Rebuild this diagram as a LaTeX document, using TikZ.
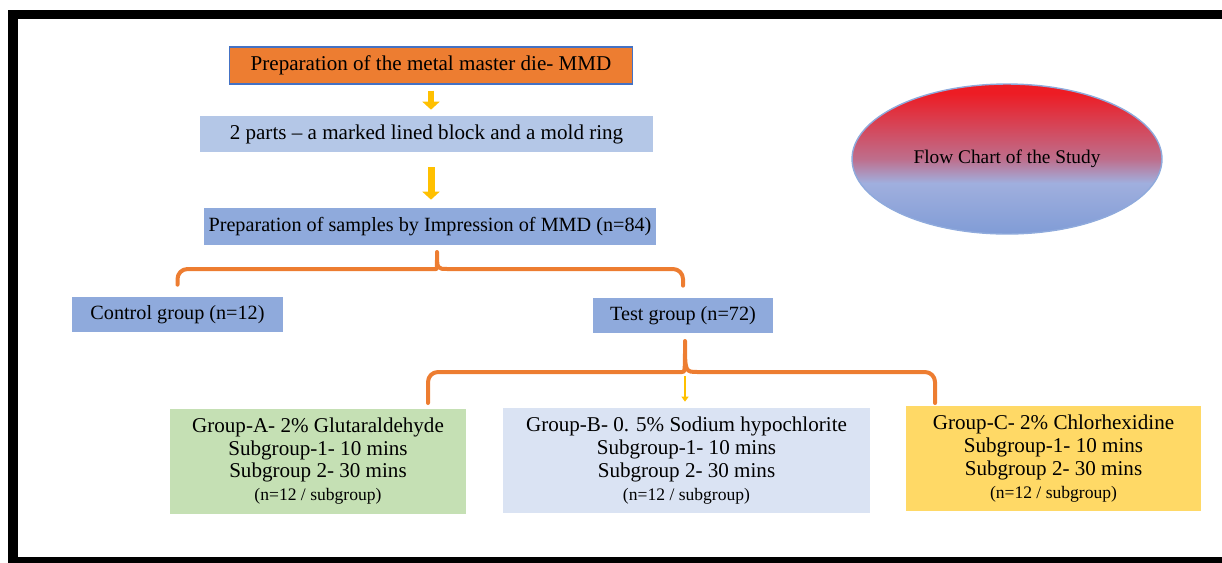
\documentclass[tikz,border=0pt]{standalone}
\usepackage{fontspec}
\setmainfont{Liberation Serif}
\usetikzlibrary{arrows.meta,shapes.geometric}

\definecolor{mmdorange}{HTML}{ED7D31}
\definecolor{edgeblue}{HTML}{4472C4}
\definecolor{paleblue}{HTML}{B4C7E7}
\definecolor{midblue}{HTML}{8FAADC}
\definecolor{grpgreen}{HTML}{C5E0B4}
\definecolor{grplilac}{HTML}{DAE3F3}
\definecolor{grpgold}{HTML}{FFD966}
\definecolor{arrowgold}{HTML}{FFC000}
\definecolor{ellred}{RGB}{237,28,36}
\definecolor{ellmauve}{RGB}{190,110,140}
\definecolor{elllight}{RGB}{160,175,222}
\definecolor{ellbase}{RGB}{128,156,214}

\pgfdeclareverticalshading{titleshade}{100bp}{color(0bp)=(ellbase); color(25bp)=(ellbase); color(42bp)=(elllight); color(50bp)=(ellmauve); color(72bp)=(ellred); color(100bp)=(ellred)}

\begin{document}
\begin{tikzpicture}[x=0.02cm, y=-0.02cm,
    stage/.style={rectangle, inner sep=0pt, align=center, font=\fontsize{12}{14}\selectfont},
    groupbox/.style={rectangle, inner sep=0pt, align=center, minimum height=2.1cm, font=\fontsize{12}{13}\selectfont},
    flowarrow/.style={draw=arrowgold, -{Triangle[length=0.16cm, width=0.34cm]}},
    brace/.style={draw=mmdorange, line width=0.08cm, line cap=round, line join=round}]

  \useasboundingbox (0,0) rectangle (1222,562);
  % frame
  \draw[line width=0.19cm] (13,14.5) rectangle (1260,562);

  % main steps
  \node[stage, fill=mmdorange, draw=edgeblue, line width=0.6pt, minimum width=8.08cm, minimum height=0.74cm] (mmd) at (431,65.5) {Preparation of the metal master die- MMD};
  \node[stage, fill=paleblue, minimum width=9.06cm, minimum height=0.72cm] (parts) at (426.5,134) {2 parts -- a marked lined block and a mold ring};
  \node[stage, fill=midblue, minimum width=9.04cm, minimum height=0.74cm, font=\fontsize{11.5}{14}\selectfont] (samples) at (430,226.5) {Preparation of samples by Impression of MMD (n=84)};

  \node[stage, fill=midblue, minimum width=4.22cm, minimum height=0.7cm, font=\fontsize{11.5}{14}\selectfont] (ctrl) at (177.5,314.5) {Control group (n=12)};
  \node[stage, fill=midblue, minimum width=3.6cm, minimum height=0.7cm, font=\fontsize{11.5}{14}\selectfont] (test) at (683,315.5) {Test group (n=72)};

  % groups
  \node[groupbox, fill=grpgreen, minimum width=5.92cm] (grpA) at (318,461) {Group-A- 2\% Glutaraldehyde\\ Subgroup-1- 10 mins\\ Subgroup 2- 30 mins\\ {\fontsize{10}{13}\selectfont (n=12 / subgroup)}};
  \node[groupbox, fill=grplilac, minimum width=7.34cm] (grpB) at (686.5,460.5) {Group-B- 0. 5\% Sodium hypochlorite\\ Subgroup-1- 10 mins\\ Subgroup 2- 30 mins\\ {\fontsize{10}{13}\selectfont (n=12 / subgroup)}};
  \node[groupbox, fill=grpgold, minimum width=5.9cm] (grpC) at (1053.5,458.5) {Group-C- 2\% Chlorhexidine\\ Subgroup-1- 10 mins\\ Subgroup 2- 30 mins\\ {\fontsize{10}{13}\selectfont (n=12 / subgroup)}};

  % title
  \node[ellipse, shading=titleshade, draw=midblue, line width=0.8pt, inner sep=0pt, minimum width=6.2cm, minimum height=3cm, font=\fontsize{11}{13}\selectfont] (title) at (1007,159) {Flow Chart of the Study};

  % arrows
  \draw[flowarrow, line width=0.12cm, shorten <=0.12cm, shorten >=0.12cm] (mmd.south) -- (mmd.south |- parts.north);
  \draw[flowarrow, line width=0.14cm, shorten <=0.3cm, shorten >=0.16cm] (mmd.south |- parts.south) -- (mmd.south |- samples.north);

  % braces
  \coordinate (bar1) at (437,269);
  \coordinate (bar2) at (685,372);
  \coordinate (endA) at (428,403);
  \coordinate (endC) at (935,403);
  \draw[brace] ([yshift=0.24cm]ctrl.north) [rounded corners=0.2cm] |- ([xshift=-0.22cm]bar1) [sharp corners] .. controls (bar1) .. ([yshift=0.34cm]bar1) .. controls (bar1) .. ([xshift=0.22cm]bar1) [rounded corners=0.2cm] -| ([yshift=0.24cm]test.north);
  \draw[brace] (endA) [rounded corners=0.2cm] |- ([xshift=-0.26cm]bar2) [sharp corners] .. controls (bar2) .. ([yshift=0.62cm]bar2) .. controls (bar2) .. ([xshift=0.26cm]bar2) [rounded corners=0.2cm] -| (endC);
  \draw[arrowgold, line width=0.04cm, -{Triangle[length=0.1cm, width=0.14cm]}, shorten <=0.08cm, shorten >=0.12cm] (bar2) -- (bar2 |- grpB.north);
\end{tikzpicture}
\end{document}
